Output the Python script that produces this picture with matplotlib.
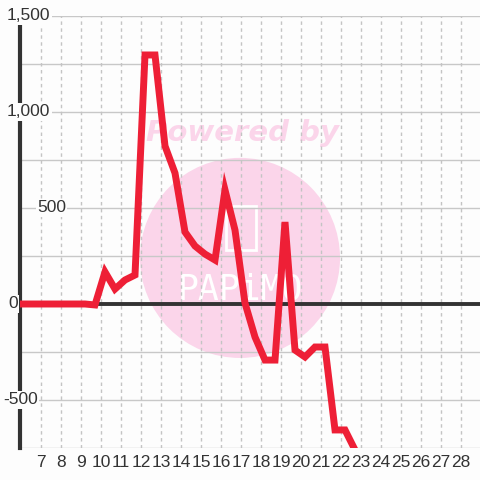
import numpy as np
import matplotlib.pyplot as plt
from matplotlib.patches import Ellipse, Rectangle
from matplotlib import transforms

plt.rcParams['font.family'] = ['Liberation Sans', 'DejaVu Sans']

# data
days = [5.7, 6.2, 6.7, 7.2, 7.7, 8.2, 8.7, 9.2, 9.7,
        10.2, 10.7, 11.2, 11.7, 12.2, 12.7, 13.2, 13.7, 14.2, 14.7,
        15.2, 15.7, 16.2, 16.7, 17.2, 17.7, 18.2, 18.7, 19.2, 19.7,
        20.2, 20.7, 21.2, 21.7, 22.2, 22.7]
values = [0, 0, 0, 0, 0, 0, 0, 0, -5,
          167, 78, 125, 151, 1297, 1297, 823, 682, 375, 302,
          260, 229, 594, 385, 5, -172, -292, -292, 427, -240,
          -276, -224, -224, -656, -656, -760]

xticks = list(range(7, 29))
ylabels = ['1,500', '1,000', '500', '0', '-500']
ylabel_vals = [1500, 1000, 500, 0, -500]
ylabel_px = [7, 7, 37, 8, 3]   # left edge of each label, in pixels

fig = plt.figure(figsize=(4.8, 4.8), dpi=100)
fig.patch.set_facecolor('#fdfdfd')
ax = fig.add_axes([20/480, 32/480, 460/480, 432/480])
ax.set_facecolor('#fdfdfd')
ax.set_xlim(5.95, 28.95)
ax.set_ylim(-750, 1500)

# watermark (under the grid)
ax.add_patch(Ellipse((16.95, 240), 10, 1042, facecolor='#fbd5ea',
                     edgecolor='none', zorder=0.5))
ax.text(17.05, 890, 'Powered by', color='#fbd5ea', fontsize=21,
        fontweight='bold', style='italic', ha='center', va='center',
        family='DejaVu Sans', zorder=0.6)
ax.text(16.95, 75, 'PAPiMO', color='white', fontsize=25,
        ha='center', va='center', zorder=0.6, family='DejaVu Sans Mono')
ax.add_patch(Rectangle((16.25, 280), 1.5, 230, fill=False,
                       edgecolor='white', lw=2, zorder=0.6))

# grid
for v in np.arange(-750, 1501, 250):
    ax.axhline(v, color='#c8c8c8', lw=1, zorder=2)
for t in xticks:
    ax.axvline(t, color='#c4c4c4', lw=1, ls=(0, (2.5, 2.5)), zorder=2)

ax.axhline(0, color='#333333', lw=2.8, zorder=3)
ax.plot(days, values, color='#ee1f36', lw=5, solid_joinstyle='miter',
        zorder=4)

for s in ['top', 'right', 'bottom']:
    ax.spines[s].set_visible(False)
ax.spines['left'].set_color('#333333')
ax.spines['left'].set_linewidth(3)
ax.spines['left'].set_zorder(3)

ax.set_xticks(xticks)
ax.tick_params(axis='x', length=0, pad=5, labelsize=12.5, labelcolor='#333333')
ax.set_yticks([])

tr = transforms.blended_transform_factory(fig.transFigure, ax.transData)
for lab, v, px in zip(ylabels, ylabel_vals, ylabel_px):
    ax.text(px/480, v, lab, transform=tr, ha='left', va='center',
            fontsize=12.5, color='#333333', zorder=5,
            bbox=dict(facecolor='#fdfdfd', edgecolor='none', pad=1))

fig.savefig('out.png', dpi=100, facecolor=fig.get_facecolor())
